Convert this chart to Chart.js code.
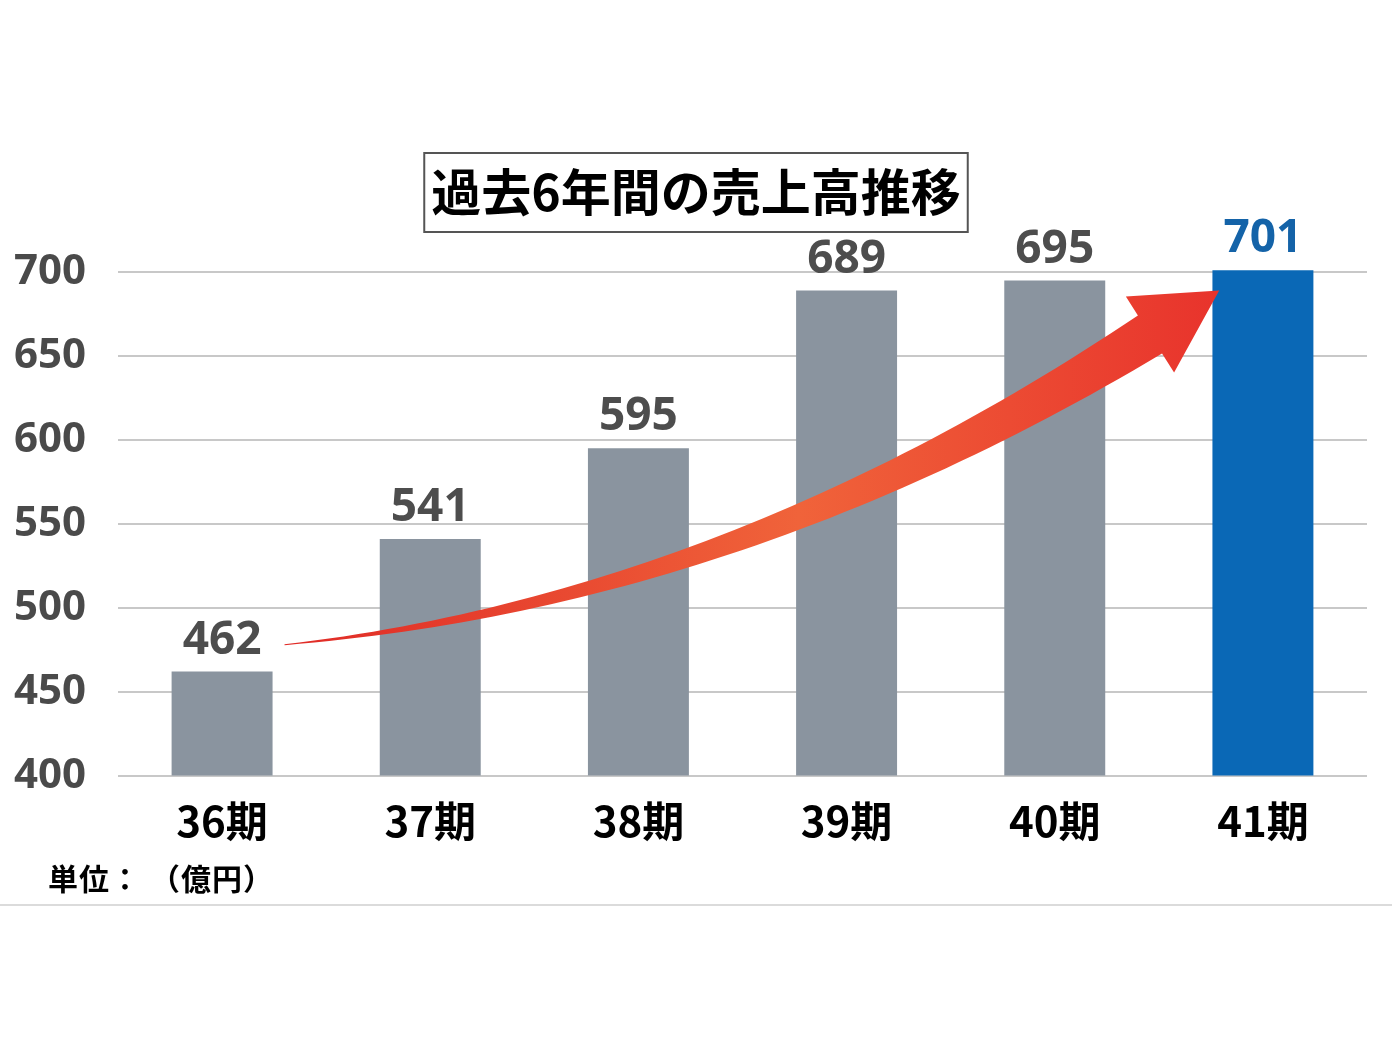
<!DOCTYPE html>
<html>
<head>
<meta charset="utf-8">
<script src="https://cdn.jsdelivr.net/npm/chart.js@4.4.1/dist/chart.umd.min.js"></script>
<style>
    html, body { margin: 0; padding: 0; background: #fff; }
</style>
</head>
<body>
<canvas id="salesChart" width="1392" height="1044"></canvas>
<script>
const periods = ['36期', '37期', '38期', '39期', '40期', '41期'];
const sales = [462, 541, 595, 689, 695, 701];
const yTicks = [400, 450, 500, 550, 600, 650, 700];
const chartTitle = '過去6年間の売上高推移';
const unitParts = ['単位：', '（億円）'];

// arrow anchors in chart terms (category index, value)
const arrowTail = { index: 0.3, value: 478 };
const arrowBend = { index: 2.44, value: 504 };
const arrowTip = { index: 4.79, value: 689 };

const GRAY = '#8a949f';
const BLUE = '#0a68b6';
const JP_FONT = '"Noto Sans CJK JP", "Noto Sans", sans-serif';
const NUM_FONT = '"Open Sans", "Noto Sans", sans-serif';

// draw char by char so full-width punctuation keeps its width
function drawSpaced(ctx, text, x, y, step) {
    [...text].forEach((ch, i) => ctx.fillText(ch, x + i * step, y));
}

const titleBox = {
    id: 'titleBox',
    afterDraw(chart) {
        const ctx = chart.ctx;
        const cx = chart.width / 2;
        ctx.save();
        ctx.font = `bold 50px ${JP_FONT}`;
        ctx.fillStyle = '#000';
        ctx.textAlign = 'center';
        ctx.textBaseline = 'middle';
        ctx.fillText(chartTitle, cx, 192);
        const w = ctx.measureText(chartTitle).width + 14;
        ctx.strokeStyle = '#555';
        ctx.lineWidth = 2;
        ctx.strokeRect(cx - w / 2, 153, w, 79);

        // unit note and bottom rule
        ctx.font = `bold 30px ${JP_FONT}`;
        ctx.textAlign = 'left';
        drawSpaced(ctx, unitParts[0], 48, 879, 31);
        drawSpaced(ctx, unitParts[1], 150, 879, 31);
        ctx.strokeStyle = '#cfcfcf';
        ctx.lineWidth = 1.5;
        ctx.beginPath();
        ctx.moveTo(0, 905);
        ctx.lineTo(chart.width, 905);
        ctx.stroke();
        ctx.restore();
    }
};

const trendArrow = {
    id: 'trendArrow',
    afterDatasetsDraw(chart) {
        const { ctx, scales: { x, y } } = chart;
        const px = a => ({
            x: x.getPixelForValue(0) + a.index * (x.getPixelForValue(1) - x.getPixelForValue(0)),
            y: y.getPixelForValue(a.value)
        });
        const p0 = px(arrowTail), p1 = px(arrowBend), tip = px(arrowTip);
        let dx = tip.x - p1.x, dy = tip.y - p1.y;
        const len = Math.hypot(dx, dy);
        dx /= len; dy /= len;
        const headLen = 82, headHalf = 45, shaftMax = 44;
        const base = { x: tip.x - dx * headLen, y: tip.y - dy * headLen };

        const upper = [], lower = [];
        const n = 60;
        for (let i = 0; i <= n; i++) {
            const t = i / n;
            const mt = 1 - t;
            const bx = mt * mt * p0.x + 2 * mt * t * p1.x + t * t * base.x;
            const by = mt * mt * p0.y + 2 * mt * t * p1.y + t * t * base.y;
            let tx = 2 * mt * (p1.x - p0.x) + 2 * t * (base.x - p1.x);
            let ty = 2 * mt * (p1.y - p0.y) + 2 * t * (base.y - p1.y);
            const tl = Math.hypot(tx, ty);
            tx /= tl; ty /= tl;
            const hw = (1 + shaftMax * Math.pow(t, 1.15)) / 2;
            upper.push({ x: bx + ty * hw, y: by - tx * hw });
            lower.push({ x: bx - ty * hw, y: by + tx * hw });
        }

        const grad = ctx.createLinearGradient(p0.x, 0, tip.x, 0);
        grad.addColorStop(0, '#e02a26');
        grad.addColorStop(0.55, '#f0633a');
        grad.addColorStop(1, '#e8332c');

        ctx.save();
        ctx.fillStyle = grad;
        ctx.beginPath();
        ctx.moveTo(upper[0].x, upper[0].y);
        upper.forEach(p => ctx.lineTo(p.x, p.y));
        ctx.lineTo(base.x + dy * headHalf, base.y - dx * headHalf);
        ctx.lineTo(tip.x, tip.y);
        ctx.lineTo(base.x - dy * headHalf, base.y + dx * headHalf);
        for (let i = lower.length - 1; i >= 0; i--) ctx.lineTo(lower[i].x, lower[i].y);
        ctx.closePath();
        ctx.fill();
        ctx.restore();
    }
};

const valueLabels = {
    id: 'valueLabels',
    afterDatasetsDraw(chart) {
        const ctx = chart.ctx;
        const meta = chart.getDatasetMeta(0);
        ctx.save();
        ctx.font = `bold 46px ${NUM_FONT}`;
        ctx.textAlign = 'center';
        ctx.textBaseline = 'bottom';
        meta.data.forEach((bar, i) => {
            ctx.fillStyle = i === sales.length - 1 ? '#1463a8' : '#4d4d4d';
            ctx.fillText(String(sales[i]), bar.x, bar.y - 8);
        });
        ctx.restore();
    }
};

new Chart(document.getElementById('salesChart'), {
    type: 'bar',
    data: {
        labels: periods,
        datasets: [{
            data: sales,
            backgroundColor: sales.map((v, i) => i === sales.length - 1 ? BLUE : GRAY),
            categoryPercentage: 1,
            barPercentage: 0.485,
            clip: { left: 0, top: false, right: 0, bottom: 0 }
        }]
    },
    options: {
        responsive: false,
        animation: false,
        layout: { padding: { top: 272, right: 25, bottom: 178, left: 0 } },
        plugins: {
            legend: { display: false },
            tooltip: { enabled: false }
        },
        scales: {
            x: {
                grid: { display: false, drawTicks: false },
                border: { display: false },
                ticks: {
                    color: '#000',
                    padding: 20,
                    maxRotation: 0,
                    autoSkip: false,
                    font: { family: JP_FONT, size: 42, weight: 'bold' }
                }
            },
            y: {
                min: 400,
                max: 700,
                afterBuildTicks: scale => { scale.ticks = yTicks.map(v => ({ value: v })); },
                afterFit: scale => { scale.width = 118; },
                grid: { color: '#c8c8c8', lineWidth: 2, drawTicks: false },
                border: { display: false },
                ticks: {
                    color: '#4a4a4a',
                    padding: 32,
                    font: { family: NUM_FONT, size: 42, weight: 'bold' }
                }
            }
        }
    },
    plugins: [titleBox, trendArrow, valueLabels]
});
</script>
</body>
</html>
